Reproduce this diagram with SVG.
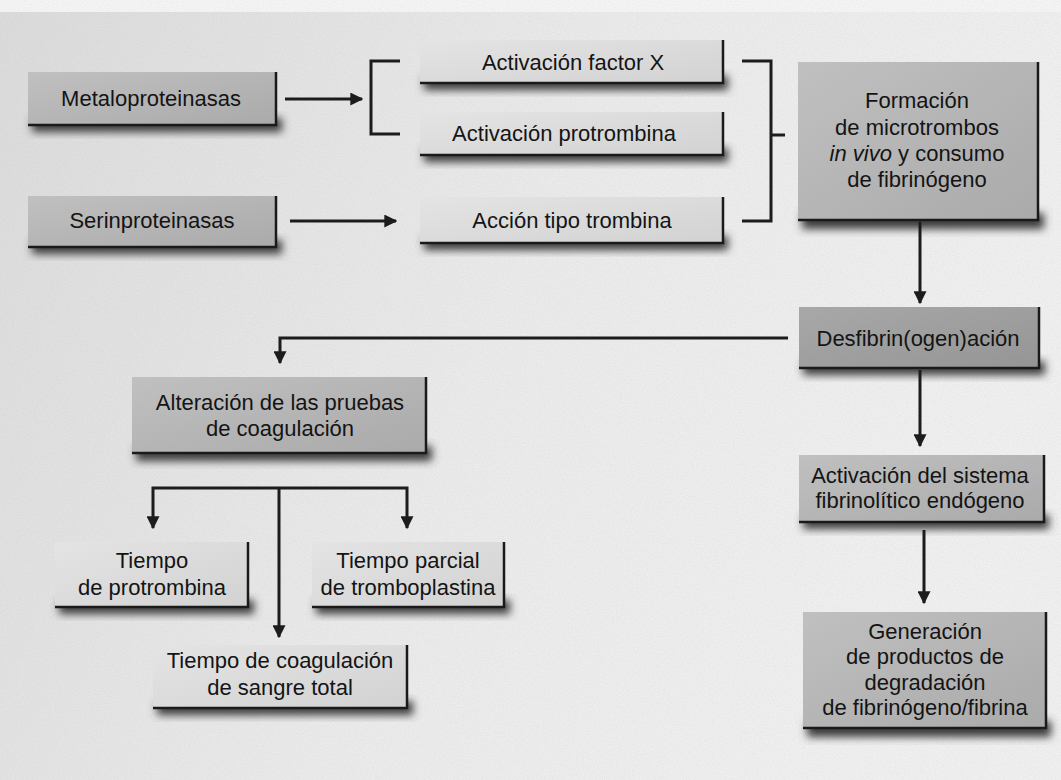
<svg xmlns="http://www.w3.org/2000/svg" width="1061" height="780" viewBox="0 0 1061 780">
<defs>
<style>
.t{font-family:"Liberation Sans",Arial,sans-serif;font-size:22px;fill:#141414;text-anchor:middle}
.bd{fill:url(#gd)}
.bdd{fill:url(#gdd)}
.bl{fill:url(#gl)}
.edge{fill:none;stroke:#1a1a1a;stroke-width:2.5}
.ln{fill:none;stroke:#1c1c1c;stroke-width:3}
.sh{fill:#3a3a3a;filter:url(#blur)}
</style>
<linearGradient id="bg" x1="0" y1="0" x2="1" y2="0.3">
<stop offset="0" stop-color="#dcdcdc"/>
<stop offset="0.55" stop-color="#ececec"/>
<stop offset="1" stop-color="#f1f1f1"/>
</linearGradient>
<linearGradient id="gd" x1="0" y1="0" x2="1" y2="1">
<stop offset="0" stop-color="#c0c0c0"/>
<stop offset="1" stop-color="#aaaaaa"/>
</linearGradient>
<linearGradient id="gdd" x1="0" y1="0" x2="1" y2="1">
<stop offset="0" stop-color="#a8a8a8"/>
<stop offset="1" stop-color="#959595"/>
</linearGradient>
<linearGradient id="gl" x1="0" y1="0" x2="1" y2="1">
<stop offset="0" stop-color="#e4e4e4"/>
<stop offset="1" stop-color="#d2d2d2"/>
</linearGradient>
<filter id="blur" x="-10%" y="-50%" width="120%" height="200%">
<feGaussianBlur stdDeviation="4"/>
</filter>
<filter id="noise" x="0" y="0" width="100%" height="100%">
<feTurbulence type="fractalNoise" baseFrequency="0.9" numOctaves="2" seed="3" result="n"/>
<feColorMatrix in="n" type="matrix" values="0 0 0 0 0.35  0 0 0 0 0.35  0 0 0 0 0.35  0 0 0 0.22 -0.06"/>
</filter>
<marker id="ah" viewBox="0 0 10 10" refX="9" refY="5" markerWidth="13" markerHeight="13" markerUnits="userSpaceOnUse" orient="auto">
<path d="M0,0 L10,5 L0,10 z" fill="#1c1c1c"/>
</marker>
</defs>

<rect width="1061" height="780" fill="url(#bg)"/>
<rect x="0" y="0" width="1061" height="12" fill="#f6f6f6"/>
<rect width="1061" height="780" filter="url(#noise)"/>

<g id="n-metalo">
<rect class="sh" x="32" y="118" width="250" height="14"/>
<rect class="bd" x="28" y="72" width="248" height="53"/>
<path class="edge" d="M276,72 V125 H28"/>
<text class="t" x="151" y="106">Metaloproteinasas</text>
</g>
<g id="n-serin">
<rect class="sh" x="32" y="240" width="250" height="14"/>
<rect class="bd" x="28" y="196" width="248" height="51"/>
<path class="edge" d="M276,196 V247 H28"/>
<text class="t" x="152" y="228">Serinproteinasas</text>
</g>
<g id="n-factorx">
<rect class="sh" x="424" y="76" width="304" height="14"/>
<rect class="bl" x="420" y="40" width="303" height="43"/>
<path class="edge" d="M723,40 V83 H420"/>
<text class="t" x="573" y="70">Activación factor X</text>
</g>
<g id="n-protrombina">
<rect class="sh" x="424" y="148" width="304" height="14"/>
<rect class="bl" x="420" y="112" width="303" height="43"/>
<path class="edge" d="M723,112 V155 H420"/>
<text class="t" x="564" y="141">Activación protrombina</text>
</g>
<g id="n-trombina">
<rect class="sh" x="424" y="236" width="304" height="14"/>
<rect class="bl" x="420" y="197" width="303" height="46"/>
<path class="edge" d="M723,197 V243 H420"/>
<text class="t" x="572" y="228">Acción tipo trombina</text>
</g>
<g id="n-formacion">
<rect class="sh" x="802" y="213" width="242" height="16"/>
<rect class="bd" x="798" y="62" width="240" height="158"/>
<path class="edge" d="M1038,62 V220 H798"/>
<text class="t" x="917" y="108">Formación</text>
<text class="t" x="917" y="135">de microtrombos</text>
<text class="t" x="917" y="161"><tspan font-style="italic">in vivo</tspan> y consumo</text>
<text class="t" x="917" y="187">de fibrinógeno</text>
</g>
<g id="n-desfibrin">
<rect class="sh" x="803" y="361" width="242" height="14"/>
<rect class="bdd" x="799" y="307" width="240" height="61"/>
<path class="edge" d="M1039,307 V368 H799"/>
<text class="t" x="918" y="346">Desfibrin(ogen)ación</text>
</g>
<g id="n-alteracion">
<rect class="sh" x="136" y="446" width="296" height="15"/>
<rect class="bd" x="132" y="377" width="294" height="76"/>
<path class="edge" d="M426,377 V453 H132"/>
<text class="t" x="280" y="410">Alteración de las pruebas</text>
<text class="t" x="280" y="436">de coagulación</text>
</g>
<g id="n-sistema">
<rect class="sh" x="803" y="515" width="246" height="14"/>
<rect class="bd" x="799" y="455" width="245" height="67"/>
<path class="edge" d="M1044,455 V522 H799"/>
<text class="t" x="920" y="483">Activación del sistema</text>
<text class="t" x="920" y="508">fibrinolítico endógeno</text>
</g>
<g id="n-generacion">
<rect class="sh" x="807" y="721" width="244" height="16"/>
<rect class="bd" x="803" y="612" width="243" height="116"/>
<path class="edge" d="M1046,612 V728 H803"/>
<text class="t" x="925" y="639">Generación</text>
<text class="t" x="925" y="664">de productos de</text>
<text class="t" x="925" y="690">degradación</text>
<text class="t" x="925" y="715">de fibrinógeno/fibrina</text>
</g>
<g id="n-tp">
<rect class="sh" x="59" y="600" width="195" height="14"/>
<rect class="bl" x="55" y="542" width="193" height="65"/>
<path class="edge" d="M248,542 V607 H55"/>
<text class="t" x="152" y="568">Tiempo</text>
<text class="t" x="152" y="595">de protrombina</text>
</g>
<g id="n-ttp">
<rect class="sh" x="316" y="600" width="194" height="14"/>
<rect class="bl" x="312" y="542" width="192" height="65"/>
<path class="edge" d="M504,542 V607 H312"/>
<text class="t" x="408" y="568">Tiempo parcial</text>
<text class="t" x="408" y="595">de tromboplastina</text>
</g>
<g id="n-tcst">
<rect class="sh" x="157" y="701" width="256" height="14"/>
<rect class="bl" x="153" y="645" width="254" height="63"/>
<path class="edge" d="M407,645 V708 H153"/>
<text class="t" x="280" y="668">Tiempo de coagulación</text>
<text class="t" x="280" y="695">de sangre total</text>
</g>

<g id="connectors">
<path class="ln" d="M285,99 H362" marker-end="url(#ah)"/>
<path class="ln" d="M400,61 H371 V134 H400"/>
<path class="ln" d="M290,221 H396" marker-end="url(#ah)"/>
<path class="ln" d="M742,61 H771 V221 H742"/>
<path class="ln" d="M771,135 H785"/>
<path class="ln" d="M920,222 V303" marker-end="url(#ah)"/>
<path class="ln" d="M788,338 H280 V363" marker-end="url(#ah)"/>
<path class="ln" d="M279,488 H153 V528" marker-end="url(#ah)"/>
<path class="ln" d="M279,488 H407 V528" marker-end="url(#ah)"/>
<path class="ln" d="M279,488 V637" marker-end="url(#ah)"/>
<path class="ln" d="M920,370 V446" marker-end="url(#ah)"/>
<path class="ln" d="M924,530 V603" marker-end="url(#ah)"/>
</g>
</svg>
